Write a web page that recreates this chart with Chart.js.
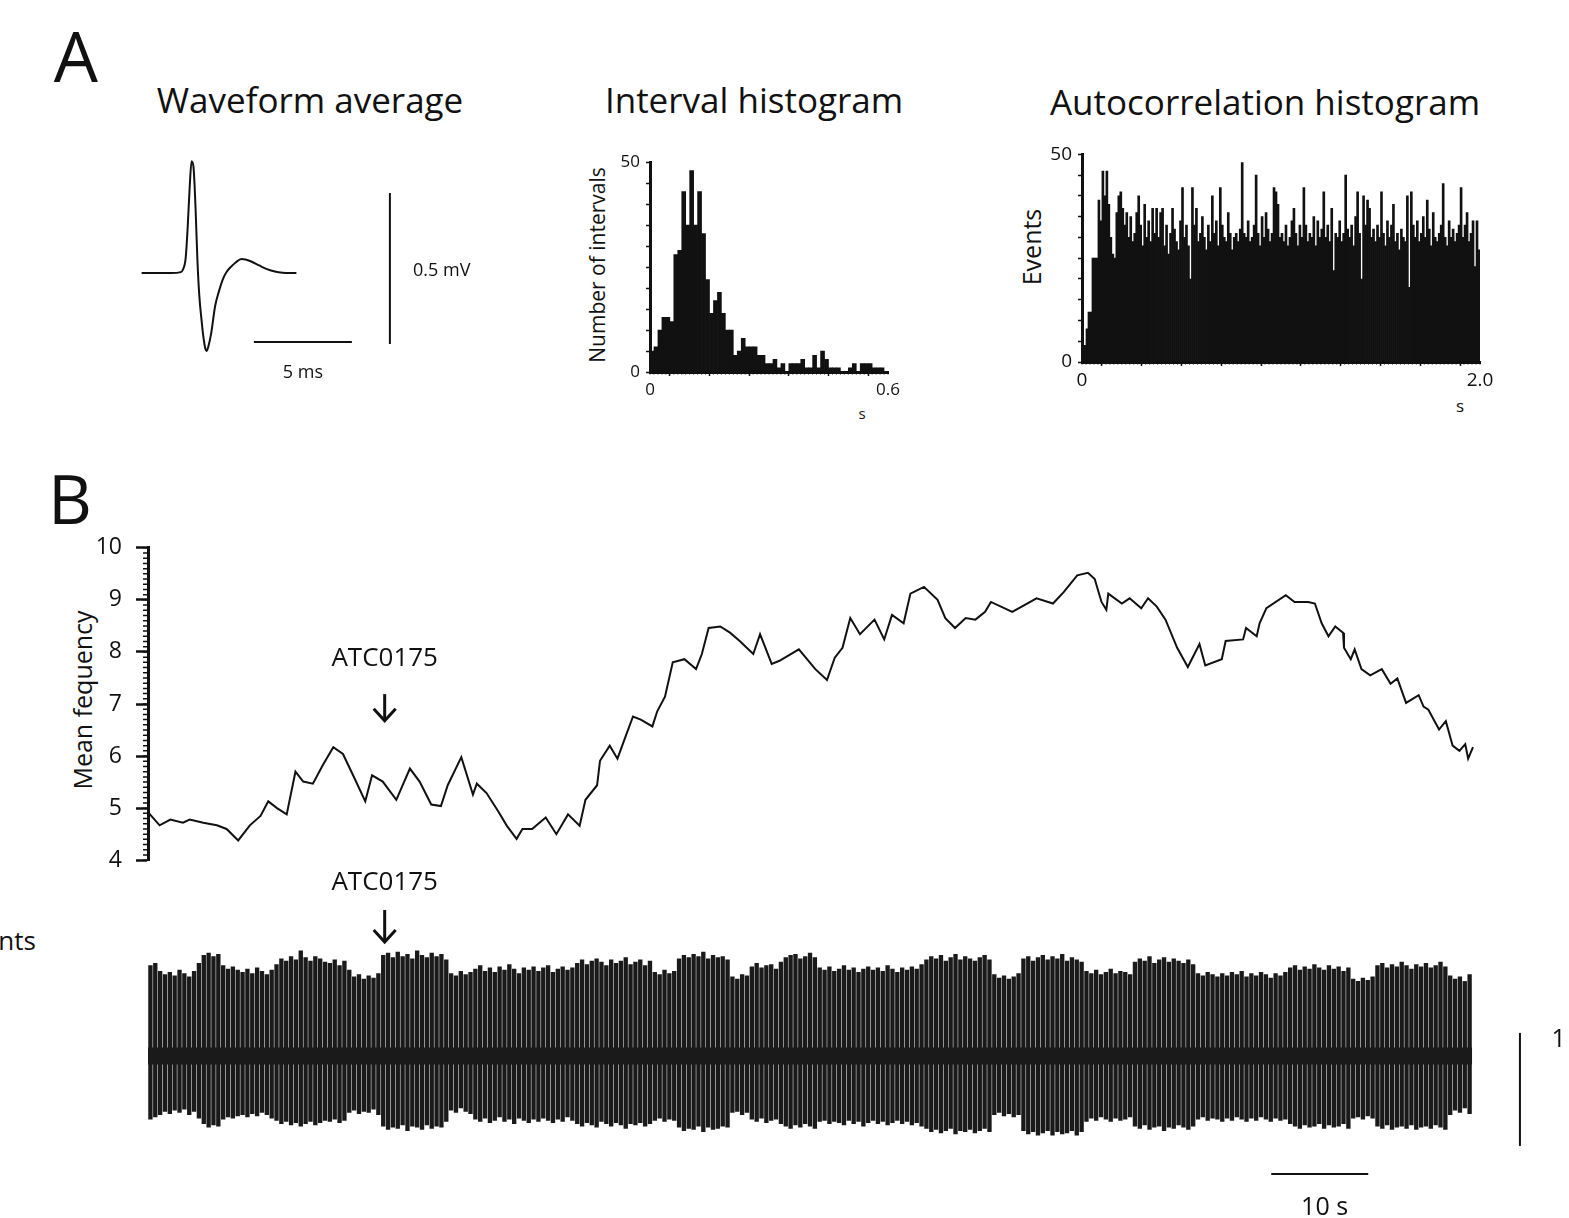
<!DOCTYPE html>
<html lang="en">
<head>
<meta charset="utf-8">
<title>Unit recording</title>
<script src="https://cdn.jsdelivr.net/npm/chart.js@4.4.1/dist/chart.umd.min.js"></script>
<style>
    html, body {
        margin: 0;
        padding: 0;
        background: #ffffff;
    }

    body {
        position: relative;
        width: 1569px;
        height: 1218px;
        overflow: hidden;
        font-family: "Open Sans", sans-serif;
        color: #111111;
    }

    .panel {
        position: absolute;
    }

    .label {
        position: absolute;
        white-space: nowrap;
        line-height: 1;
        transform: translate(-50%, -50%);
    }

    .label.vertical {
        transform: translate(-50%, -50%) rotate(-90deg);
    }
</style>
</head>
<body>

<div class="label" style="left:76px; top:55px; font-size:70px;">A</div>
<div class="label" style="left:70px; top:498px; font-size:68px;">B</div>

<div class="label" style="left:310px; top:99px; font-size:35px;">Waveform average</div>
<div class="label" style="left:754px; top:99px; font-size:35px;">Interval histogram</div>
<div class="label" style="left:1265px; top:101px; font-size:35px;">Autocorrelation histogram</div>

<div class="label vertical" style="left:597px; top:265px; font-size:21px;">Number of intervals</div>
<div class="label" style="left:862px; top:413px; font-size:15px;">s</div>

<div class="label vertical" style="left:1031px; top:247px; font-size:25px;">Events</div>
<div class="label" style="left:1460px; top:405px; font-size:17px;">s</div>

<div class="label vertical" style="left:82px; top:700px; font-size:25px;">Mean fequency</div>
<div class="label" style="left:17px; top:940px; font-size:26px;">nts</div>

<div class="panel" style="left:122px; top:140px;">
    <canvas id="waveformChart" width="380" height="260"></canvas>
</div>
<div class="panel" style="left:610px; top:146px;">
    <canvas id="intervalChart" width="298" height="256"></canvas>
</div>
<div class="panel" style="left:1042px; top:137px;">
    <canvas id="autocorrChart" width="458" height="255"></canvas>
</div>
<div class="panel" style="left:0px; top:520px;">
    <canvas id="frequencyChart" width="1490" height="368"></canvas>
</div>
<div class="panel" style="left:0px; top:865px;">
    <canvas id="spikeChart" width="1569" height="353"></canvas>
</div>

<script>
// waveform average (ms, mV)
const waveTimeMs = [0, 1.5, 2.0, 2.1, 2.25, 2.35, 2.45, 2.55, 2.65, 2.75,
    2.85, 2.95, 3.05, 3.15, 3.25, 3.32, 3.4, 3.55, 3.75, 3.95,
    4.15, 4.35, 4.55, 4.8, 5.1, 5.3, 5.6, 6.0, 6.4, 6.8,
    7.2, 7.6, 7.9];
const waveMillivolts = [0, 0, 0.003, 0.01, 0.05, 0.15, 0.28, 0.37, 0.35, 0.22,
    0.04, -0.08, -0.15, -0.21, -0.25, -0.258, -0.245, -0.2, -0.11, -0.06,
    -0.02, 0.005, 0.02, 0.035, 0.046, 0.045, 0.038, 0.025, 0.013, 0.005,
    0.001, 0, 0];

// interval histogram, 10 ms bins
const intervalBinWidth = 0.01;
const intervalCounts = [5, 6, 10, 13, 13, 12, 28, 29, 43, 35,
    48, 35, 43, 33, 22, 14, 17, 19, 14, 10,
    10, 4, 5, 8, 6, 6, 6, 4, 4, 2,
    2, 3, 1, 2, 0, 2, 2, 2, 3, 1,
    1, 4, 1, 5, 3, 1, 1, 1, 0, 0,
    1, 2, 0, 2, 2, 2, 1, 1, 1];
const intervalXTickValues = [0, 0.6];
const intervalXTickTexts = ["0", "0.6"];
const countTickValues = [0, 50];
const countTickTexts = ["0", "50"];

// autocorrelation histogram, 10 ms bins
const autocorrBinWidth = 0.01;
const autocorrCounts = [
    2, 4, 8, 12, 12, 25, 25, 25, 39, 34,
    46, 40, 46, 38, 30, 26, 25, 36, 40, 41,
    37, 33, 36, 30, 35, 29, 31, 36, 40, 33,
    28, 38, 30, 34, 29, 37, 31, 37, 30, 36,
    37, 28, 33, 26, 31, 37, 32, 29, 27, 34,
    42, 30, 33, 28, 20, 42, 33, 37, 29, 31,
    35, 30, 27, 33, 29, 40, 31, 34, 28, 42,
    33, 30, 29, 36, 31, 27, 30, 31, 29, 32,
    48, 31, 30, 34, 29, 30, 33, 45, 31, 28,
    35, 30, 36, 32, 29, 31, 42, 41, 38, 30,
    31, 29, 33, 28, 30, 34, 37, 31, 28, 33,
    30, 42, 33, 29, 31, 30, 35, 28, 34, 30,
    32, 41, 30, 33, 29, 37, 22, 31, 30, 34,
    29, 31, 45, 32, 30, 33, 28, 35, 41, 31,
    20, 40, 33, 39, 37, 30, 32, 29, 33, 30,
    41, 31, 28, 34, 30, 33, 38, 29, 31, 27,
    32, 30, 29, 40, 18, 41, 33, 30, 34, 29,
    31, 35, 30, 39, 32, 28, 36, 30, 29, 31,
    33, 43, 30, 28, 34, 30, 32, 29, 31, 33,
    42, 30, 33, 36, 29, 31, 34, 23, 34, 27];
const autocorrXTickValues = [0, 2];
const autocorrXTickTexts = ["0", "2.0"];

// mean frequency (s, Hz)
const freqTimes = [0, 0.2, 1.2, 2.3, 3.6, 4.3, 5.7, 7.1, 8.1, 9.3,
    10.5, 11.6, 12.4, 13.3, 14.3, 15.2, 16.0, 17.0, 18.0, 19.1,
    20.1, 21.3, 22.4, 23.1, 24.2, 25.6, 27.0, 28.0, 29.2, 30.2,
    30.9, 32.3, 33.5, 33.9, 34.9, 36.1, 37.0, 38.0, 38.6, 39.6,
    41.0, 42.1, 43.3, 44.5, 45.1, 46.3, 46.6, 47.6, 48.4, 49.2,
    50.0, 50.8, 52.0, 52.5, 53.3, 54.1, 55.3, 56.5, 57.1, 57.8,
    59.0, 60.0, 61.0, 62.4, 63.1, 64.3, 65.1, 67.1, 68.8, 70.0,
    70.8, 71.6, 72.4, 73.4, 74.9, 75.9, 76.7, 77.9, 78.6, 80.0,
    81.4, 82.2, 83.2, 84.3, 85.3, 86.3, 86.9, 89.1, 91.6, 93.3,
    94.4, 95.8, 96.9, 97.6, 98.3, 98.8, 99.0, 100.4, 101.2, 102.4,
    103.1, 104.0, 104.9, 106.1, 107.2, 108.4, 109.0, 110.7, 111.1, 112.9,
    113.2, 114.3, 114.6, 115.3, 117.3, 118.2, 119.6, 120.3, 121.0, 121.7,
    122.4, 123.2, 123.3, 124.0, 124.4, 125.1, 126.0, 127.2, 128.1, 128.8,
    129.7, 131.0, 131.5, 132.0, 133.1, 133.8, 134.5, 135.2, 135.8, 136.1,
    136.6];
const freqValues = [4.85, 4.88, 4.67, 4.78, 4.72, 4.78, 4.72, 4.67, 4.6, 4.38,
    4.67, 4.85, 5.13, 5.0, 4.88, 5.7, 5.51, 5.47, 5.82, 6.17,
    6.04, 5.57, 5.13, 5.63, 5.51, 5.16, 5.76, 5.51, 5.07, 5.04,
    5.44, 5.98, 5.26, 5.47, 5.29, 4.94, 4.66, 4.41, 4.6, 4.6,
    4.82, 4.5, 4.88, 4.66, 5.16, 5.44, 5.91, 6.2, 5.95, 6.36,
    6.76, 6.7, 6.57, 6.86, 7.14, 7.8, 7.86, 7.67, 7.96, 8.46,
    8.49, 8.37, 8.21, 7.96, 8.34, 7.77, 7.83, 8.05, 7.67, 7.46,
    7.89, 8.08, 8.65, 8.34, 8.62, 8.24, 8.71, 8.55, 9.12, 9.25,
    9.0, 8.65, 8.46, 8.65, 8.62, 8.77, 8.96, 8.77, 9.03, 8.93,
    9.15, 9.47, 9.52, 9.4, 8.96, 8.81, 9.12, 8.93, 9.03, 8.84,
    9.03, 8.87, 8.62, 8.08, 7.71, 8.15, 7.74, 7.86, 8.21, 8.24,
    8.46, 8.3, 8.55, 8.84, 9.09, 8.96, 8.96, 8.93, 8.55, 8.3,
    8.49, 8.37, 8.08, 7.86, 8.05, 7.67, 7.55, 7.67, 7.39, 7.49,
    7.02, 7.17, 6.95, 6.89, 6.51, 6.67, 6.2, 6.1, 6.23, 5.95,
    6.17];
const freqTickValues = [4, 5, 6, 7, 8, 9, 10];

// raw trace: spike extremes per 0.5 s (scale bar = 100)
const spikeBinWidth = 0.5;
const spikeTops = [
    80, 82, 75, 72, 74, 71, 76, 73, 70, 75, 82, 89, 91, 88, 90, 80, 77, 79, 76, 74,
    77, 73, 78, 75, 72, 76, 81, 86, 84, 88, 85, 93, 87, 84, 88, 86, 83, 82, 85, 80,
    84, 76, 70, 72, 68, 71, 69, 73, 89, 91, 87, 92, 88, 90, 86, 93, 89, 87, 91, 88,
    90, 85, 73, 71, 75, 72, 74, 77, 80, 75, 78, 74, 79, 76, 81, 77, 73, 78, 76, 79,
    75, 78, 80, 74, 77, 79, 76, 78, 82, 85, 81, 84, 86, 83, 80, 85, 82, 84, 87, 81,
    83, 85, 80, 84, 74, 72, 76, 73, 75, 86, 89, 87, 90, 88, 92, 86, 89, 87, 88, 85,
    70, 68, 72, 71, 79, 82, 78, 80, 81, 77, 83, 87, 89, 90, 86, 88, 91, 87, 78, 76,
    79, 75, 77, 80, 76, 78, 74, 77, 79, 76, 78, 75, 80, 77, 74, 78, 76, 79, 77, 81,
    85, 88, 86, 89, 84, 87, 90, 85, 88, 86, 84, 87, 89, 85, 72, 69, 71, 68, 70, 73,
    86, 88, 84, 87, 89, 85, 88, 86, 90, 84, 87, 85, 83, 75, 73, 76, 72, 74, 77, 73,
    75, 74, 72, 83, 86, 84, 88, 82, 85, 87, 83, 86, 84, 82, 85, 81, 73, 71, 74, 72,
    70, 73, 71, 74, 72, 75, 70, 73, 71, 74, 72, 69, 73, 71, 74, 78, 80, 76, 79, 77,
    81, 78, 76, 80, 77, 79, 75, 78, 68, 66, 69, 67, 70, 80, 82, 78, 81, 79, 83, 80,
    77, 81, 79, 82, 78, 80, 83, 79, 71, 68, 70, 66, 72];
const spikeBottoms = [
    -56, -54, -52, -49, -51, -48, -50, -47, -52, -49, -55, -60, -63, -61, -62, -56, -54, -55, -53, -52,
    -54, -51, -53, -50, -52, -55, -57, -60, -58, -61, -59, -62, -60, -58, -61, -59, -57, -58, -56, -59,
    -57, -50, -48, -51, -49, -50, -47, -52, -62, -65, -63, -64, -61, -66, -62, -63, -65, -61, -64, -62,
    -63, -58, -48, -50, -46, -49, -51, -56, -58, -55, -59, -57, -54, -58, -56, -60, -55, -57, -59, -56,
    -58, -55, -57, -59, -56, -58, -54, -57, -60, -62, -59, -61, -63, -58, -60, -62, -59, -61, -64, -60,
    -61, -59, -62, -60, -57, -55, -58, -56, -57, -63, -66, -64, -65, -62, -67, -63, -65, -64, -62, -63,
    -50, -49, -52, -50, -56, -58, -55, -59, -57, -56, -60, -62, -64, -61, -63, -60, -62, -64, -58, -57,
    -60, -58, -59, -61, -57, -60, -58, -62, -59, -57, -60, -58, -61, -59, -57, -60, -58, -61, -59, -62,
    -64, -67, -65, -68, -66, -64, -69, -66, -67, -65, -68, -66, -64, -67, -52, -50, -53, -51, -54, -52,
    -66, -69, -67, -70, -68, -66, -70, -67, -69, -68, -66, -70, -67, -58, -55, -57, -54, -56, -58, -55,
    -57, -56, -54, -62, -64, -61, -65, -63, -62, -66, -63, -64, -61, -63, -65, -62, -56, -54, -57, -55,
    -56, -58, -55, -57, -54, -56, -58, -55, -57, -54, -56, -58, -55, -57, -56, -60, -62, -64, -61, -63,
    -62, -60, -64, -61, -63, -62, -60, -64, -55, -54, -56, -53, -55, -62, -64, -61, -65, -63, -62, -64,
    -61, -65, -63, -62, -64, -61, -63, -65, -52, -48, -50, -46, -51];

const drugLabel = "ATC0175";
const drugTime = 24.4;

const INK = "#111111";
const FONT = "'Open Sans', sans-serif";


document.addEventListener("DOMContentLoaded", function () {
    Chart.defaults.font.family = FONT;
    Chart.defaults.color = INK;
    Chart.defaults.animation = false;
    Chart.defaults.responsive = false;
    Chart.defaults.plugins.legend.display = false;
    Chart.defaults.plugins.tooltip.enabled = false;

    initializeWaveformChart();
    initializeIntervalChart();
    initializeAutocorrChart();
    initializeFrequencyChart();
    initializeSpikeChart();
});


// scale bars, arrows and free labels, placed in data units
const figureMarks = {
    id: "figureMarks",

    afterDraw: function (chart, args, opts) {
        const ctx = chart.ctx;
        const xScale = chart.scales.x;
        const yScale = chart.scales.y;

        function px(v) {
            return xScale.getPixelForValue(v);
        }

        function py(v) {
            return yScale.getPixelForValue(v);
        }

        ctx.save();
        ctx.strokeStyle = INK;
        ctx.fillStyle = INK;
        ctx.lineCap = "butt";

        (opts.lines || []).forEach(function (line) {
            ctx.lineWidth = line.width || 2;
            ctx.beginPath();
            ctx.moveTo(px(line.x1), py(line.y1));
            ctx.lineTo(px(line.x2), py(line.y2));
            ctx.stroke();
        });

        (opts.arrows || []).forEach(function (arrow) {
            const ax = px(arrow.x);
            const tip = py(arrow.tip);

            ctx.lineWidth = 3;
            ctx.beginPath();
            ctx.moveTo(ax, py(arrow.top));
            ctx.lineTo(ax, tip - 2);
            ctx.stroke();

            ctx.lineJoin = "miter";
            ctx.beginPath();
            ctx.moveTo(ax - 11, tip - 12);
            ctx.lineTo(ax, tip);
            ctx.lineTo(ax + 11, tip - 12);
            ctx.stroke();
        });

        (opts.texts || []).forEach(function (item) {
            ctx.font = item.size + "px " + FONT;
            ctx.textAlign = item.align || "center";
            ctx.textBaseline = "middle";
            ctx.fillText(item.text, px(item.x), py(item.y));
        });

        ctx.restore();
    }
};


// small unlabeled ticks between the main ones
const minorTicks = {
    id: "minorTicks",

    afterDraw: function (chart, args, opts) {
        const ctx = chart.ctx;

        ctx.save();
        ctx.strokeStyle = INK;

        (opts.axes || []).forEach(function (axis) {
            const scale = chart.scales[axis.id];
            const count = Math.round((scale.max - scale.min) / axis.step);

            ctx.lineWidth = axis.width;
            ctx.beginPath();

            for (let i = 0; i <= count; i++) {
                const p = scale.getPixelForValue(scale.min + i * axis.step);

                if (scale.isHorizontal()) {
                    ctx.moveTo(p, scale.top);
                    ctx.lineTo(p, scale.top + axis.length);
                } else {
                    ctx.moveTo(scale.right - axis.length, p);
                    ctx.lineTo(scale.right, p);
                }
            }

            ctx.stroke();
        });

        ctx.restore();
    }
};


function onlyLabels(values, texts) {
    return function (value) {
        for (let i = 0; i < values.length; i++) {
            if (Math.abs(values[i] - value) < 1e-6) {
                return texts[i];
            }
        }

        return "";
    };
}


function initializeWaveformChart() {
    const points = waveTimeMs.map(function (t, i) {
        return { x: t, y: waveMillivolts[i] };
    });

    new Chart(document.getElementById("waveformChart"), {
        type: "line",

        data: {
            datasets: [
                {
                    data: points,
                    borderColor: INK,
                    borderWidth: 2,
                    pointRadius: 0,
                    cubicInterpolationMode: "monotone",
                    clip: false
                }
            ]
        },

        options: {
            devicePixelRatio: 1,
            layout: { padding: 0 },

            scales: {
                x: { type: "linear", display: false, min: -1, max: 18.39 },
                y: { display: false, min: -0.4205, max: 0.4404 }
            },

            plugins: {
                figureMarks: {
                    lines: [
                        { x1: 5.73, y1: -0.2285, x2: 10.73, y2: -0.2285, width: 2 },
                        { x1: 12.67, y1: 0.265, x2: 12.67, y2: -0.235, width: 2 }
                    ],
                    texts: [
                        { text: "5 ms", x: 8.23, y: -0.332, size: 18 },
                        { text: "0.5 mV", x: 13.85, y: 0.007, size: 18, align: "left" }
                    ]
                }
            }
        },

        plugins: [figureMarks]
    });
}


function buildHistogram(canvasId, counts, binWidth, setup) {
    const bars = counts.map(function (count, i) {
        return { x: (i + 0.5) * binWidth, y: count };
    });

    const tickGrid = {
        display: true,
        drawOnChartArea: false,
        drawTicks: true,
        tickLength: 4,
        tickWidth: 1.5,
        tickColor: INK
    };

    new Chart(document.getElementById(canvasId), {
        type: "bar",

        data: {
            datasets: [
                {
                    data: bars,
                    backgroundColor: INK,
                    borderWidth: 0,
                    barPercentage: 1,
                    categoryPercentage: 1
                }
            ]
        },

        options: {
            devicePixelRatio: 1,
            layout: { padding: { top: 15, right: 20, left: 0, bottom: 0 } },

            scales: {
                x: {
                    type: "linear",
                    offset: false,
                    min: 0,
                    max: setup.xMax,
                    grid: tickGrid,
                    border: { display: true, width: 3, color: INK },
                    afterFit: function (scale) {
                        scale.height = 30;
                    },
                    ticks: {
                        stepSize: setup.xStep,
                        autoSkip: false,
                        maxRotation: 0,
                        padding: setup.xPad,
                        font: { size: setup.fontSize },
                        callback: onlyLabels(setup.xTickValues, setup.xTickTexts)
                    }
                },

                y: {
                    min: 0,
                    max: 50,
                    grid: tickGrid,
                    border: { display: true, width: 3, color: INK },
                    afterFit: function (scale) {
                        scale.width = 40;
                    },
                    ticks: {
                        stepSize: 5,
                        autoSkip: false,
                        padding: 6,
                        font: { size: setup.fontSize },
                        callback: onlyLabels(countTickValues, countTickTexts)
                    }
                }
            },

            plugins: {
                minorTicks: {
                    axes: [{ id: "x", step: setup.minorStep, length: 2.5, width: 1 }]
                }
            }
        },

        plugins: [minorTicks]
    });
}


function initializeIntervalChart() {
    buildHistogram("intervalChart", intervalCounts, intervalBinWidth, {
        xMax: 0.6,
        xStep: 0.1,
        minorStep: 0.01,
        xPad: 4,
        fontSize: 17,
        xTickValues: intervalXTickValues,
        xTickTexts: intervalXTickTexts
    });
}


function initializeAutocorrChart() {
    buildHistogram("autocorrChart", autocorrCounts, autocorrBinWidth, {
        xMax: 2,
        xStep: 0.2,
        minorStep: 0.02,
        xPad: 3,
        fontSize: 19,
        xTickValues: autocorrXTickValues,
        xTickTexts: autocorrXTickTexts
    });
}


function initializeFrequencyChart() {
    const points = freqTimes.map(function (t, i) {
        return { x: t, y: freqValues[i] };
    });

    new Chart(document.getElementById("frequencyChart"), {
        type: "line",

        data: {
            datasets: [
                {
                    data: points,
                    borderColor: INK,
                    borderWidth: 2,
                    pointRadius: 0,
                    tension: 0,
                    clip: false
                }
            ]
        },

        options: {
            devicePixelRatio: 1,
            layout: { padding: { top: 25, right: 17, bottom: 25, left: 0 } },

            scales: {
                x: { type: "linear", display: false, min: 0, max: 136.6 },

                y: {
                    min: 4,
                    max: 10,
                    grid: {
                        display: true,
                        drawOnChartArea: false,
                        drawTicks: true,
                        tickLength: 12,
                        tickWidth: 2.5,
                        tickColor: INK
                    },
                    border: { display: true, width: 3, color: INK },
                    afterFit: function (scale) {
                        scale.width = 148;
                    },
                    ticks: {
                        stepSize: 1,
                        autoSkip: false,
                        padding: 14,
                        font: { size: 23 },
                        callback: onlyLabels(freqTickValues, freqTickValues.map(String))
                    }
                }
            },

            plugins: {
                minorTicks: {
                    axes: [{ id: "y", step: 0.1, length: 5, width: 1.5 }]
                },
                figureMarks: {
                    arrows: [{ x: drugTime, top: 7.19, tip: 6.68 }],
                    texts: [{ text: drugLabel, x: drugTime, y: 7.87, size: 26 }]
                }
            }
        },

        plugins: [minorTicks, figureMarks]
    });
}


function initializeSpikeChart() {
    const spikes = spikeTops.map(function (top, k) {
        return { x: (k + 0.5) * spikeBinWidth, y: [spikeBottoms[k], top] };
    });

    const traceEnd = spikeTops.length * spikeBinWidth;

    new Chart(document.getElementById("spikeChart"), {
        type: "bar",

        data: {
            datasets: [
                {
                    type: "line",
                    data: [{ x: 0, y: 0 }, { x: traceEnd, y: 0 }],
                    borderColor: "#1a1a1a",
                    borderWidth: 17,
                    pointRadius: 0
                },
                {
                    data: spikes,
                    backgroundColor: "#1a1a1a",
                    borderWidth: 0,
                    barThickness: 3.7
                }
            ]
        },

        options: {
            devicePixelRatio: 1,
            layout: { padding: { top: 85, right: 96, bottom: 68, left: 148 } },

            scales: {
                x: { type: "linear", display: false, offset: false, min: 0, max: 136.6 },
                y: { display: false, min: -83.2, max: 93.8 }
            },

            plugins: {
                figureMarks: {
                    lines: [
                        { x1: 141.44, y1: 20.4, x2: 141.44, y2: -79.6, width: 2 },
                        { x1: 115.8, y1: -104.4, x2: 125.8, y2: -104.4, width: 2 }
                    ],
                    arrows: [{ x: drugTime, top: 129.2, tip: 100.9 }],
                    texts: [
                        { text: drugLabel, x: drugTime, y: 153.1, size: 26 },
                        { text: "10 s", x: 121.3, y: -134.5, size: 25 },
                        { text: "1", x: 144.7, y: 14.2, size: 25, align: "left" }
                    ]
                }
            }
        },

        plugins: [figureMarks]
    });
}
</script>
</body>
</html>
